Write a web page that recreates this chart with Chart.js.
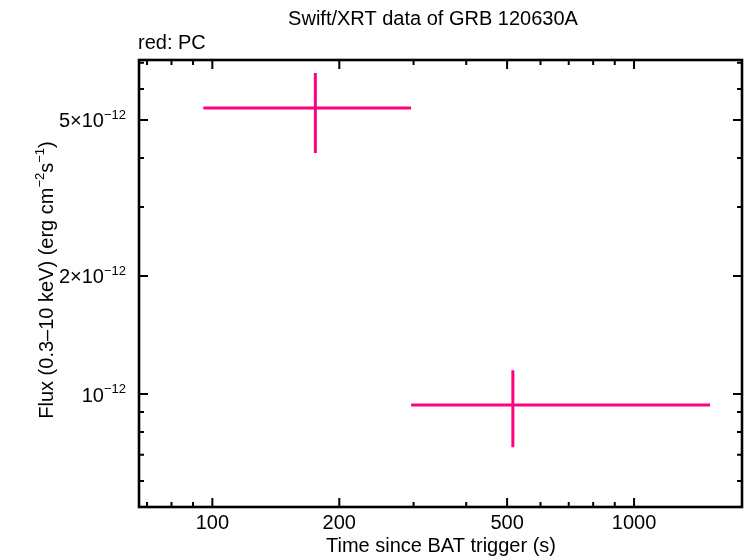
<!DOCTYPE html>
<html>
<head>
<meta charset="utf-8">
<script src="https://cdn.jsdelivr.net/npm/chart.js@4/dist/chart.umd.min.js"></script>
<style>
html, body { margin: 0; padding: 0; background: #fff; }
#wrap { width: 746px; height: 558px; }
</style>
</head>
<body>
<div id="wrap"><canvas id="lc" width="746" height="558"></canvas></div>
<script>
// light curve bins (PC mode)
var timeMid = [175.5, 516];
var timeLo  = [95.2, 296];
var timeHi  = [296, 1514];
var flux    = [5.36e-12, 9.37e-13];
var fluxLo  = [4.12e-12, 7.32e-13];
var fluxHi  = [6.59e-12, 1.15e-12];

// axis ticks
var xMajor = [100, 200, 500, 1000];
var xMajorLabels = ["100", "200", "500", "1000"];
var xMinor = [70, 80, 90, 300, 400, 600, 700, 800, 900];
var yMajor = [1e-12, 2e-12, 5e-12];
var yMajorLabels = [["10", "\u221212"], ["2\u00d710", "\u221212"], ["5\u00d710", "\u221212"]];
var yMinor = [6e-13, 7e-13, 8e-13, 9e-13, 3e-12, 4e-12, 6e-12, 7e-12];

var pink = "#ff0080";
var FONT = "'Liberation Sans', Arial, Helvetica, sans-serif";

var points = timeMid.map(function (t, i) { return { x: t, y: flux[i] }; });

// draws "base" + superscript, anchored by align ('right' | 'center' | 'left')
function supText(ctx, parts, x, y, align) {
  var big = "20px " + FONT, small = "13px " + FONT;
  var w = 0;
  parts.forEach(function (p, i) {
    ctx.font = (i % 2 == 0) ? big : small;
    w += ctx.measureText(p).width;
  });
  var cx = align == "right" ? x - w : (align == "center" ? x - w / 2 : x);
  ctx.textAlign = "left";
  ctx.textBaseline = "middle";
  parts.forEach(function (p, i) {
    if (i % 2 == 0) {
      ctx.font = big;
      ctx.fillText(p, cx, y);
    } else {
      ctx.font = small;
      ctx.fillText(p, cx, y - 7);
    }
    cx += ctx.measureText(p).width;
  });
}

var errorBars = {
  id: 'errorBars',
  afterDatasetsDraw: function (chart) {
    var ctx = chart.ctx, xs = chart.scales.x, ys = chart.scales.y;
    ctx.save();
    ctx.strokeStyle = pink;
    ctx.lineWidth = 3;
    for (var i = 0; i < timeMid.length; i++) {
      var px = xs.getPixelForValue(timeMid[i]);
      var py = ys.getPixelForValue(flux[i]);
      ctx.beginPath();
      ctx.moveTo(xs.getPixelForValue(timeLo[i]), py);
      ctx.lineTo(xs.getPixelForValue(timeHi[i]), py);
      ctx.moveTo(px, ys.getPixelForValue(fluxHi[i]));
      ctx.lineTo(px, ys.getPixelForValue(fluxLo[i]));
      ctx.stroke();
    }
    ctx.restore();
  }
};

var frame = {
  id: 'frame',
  afterDraw: function (chart) {
    var ctx = chart.ctx, a = chart.chartArea;
    var xs = chart.scales.x, ys = chart.scales.y;
    ctx.save();
    ctx.strokeStyle = "#000";
    ctx.fillStyle = "#000";

    // ticks, inside, mirrored
    ctx.lineWidth = 2;
    ctx.beginPath();
    function xt(v, len) {
      var p = xs.getPixelForValue(v);
      ctx.moveTo(p, a.bottom); ctx.lineTo(p, a.bottom - len);
      ctx.moveTo(p, a.top); ctx.lineTo(p, a.top + len);
    }
    function yt(v, len) {
      var p = ys.getPixelForValue(v);
      ctx.moveTo(a.left, p); ctx.lineTo(a.left + len, p);
      ctx.moveTo(a.right, p); ctx.lineTo(a.right - len, p);
    }
    xMajor.forEach(function (v) { xt(v, 9); });
    xMinor.forEach(function (v) { xt(v, 5); });
    yMajor.forEach(function (v) { yt(v, 9); });
    yMinor.forEach(function (v) { yt(v, 5); });
    ctx.stroke();

    ctx.lineWidth = 2.6;
    ctx.strokeRect(a.left, a.top, a.right - a.left, a.bottom - a.top);

    // tick labels
    ctx.font = "20px " + FONT;
    ctx.textAlign = "center";
    ctx.textBaseline = "middle";
    xMajor.forEach(function (v, i) {
      ctx.fillText(xMajorLabels[i], xs.getPixelForValue(v), 523);
    });
    yMajor.forEach(function (v, i) {
      supText(ctx, yMajorLabels[i], 126, ys.getPixelForValue(v) + 2, "right");
    });

    // titles
    ctx.font = "20px " + FONT;
    ctx.textAlign = "center";
    ctx.fillText("Swift/XRT data of GRB 120630A", 433, 19);
    ctx.fillText("Time since BAT trigger (s)", 441, 546);
    ctx.textAlign = "left";
    ctx.fillText("red: PC", 138, 43);

    ctx.translate(47, 280);
    ctx.rotate(-Math.PI / 2);
    supText(ctx, ["Flux (0.3\u201310 keV) (erg cm", "\u22122", "s", "\u22121", ")"], 0, 0, "center");
    ctx.restore();
  }
};

var ctx = document.getElementById("lc").getContext('2d');
var lc = new Chart(ctx, {
  type: 'scatter',
  data: {
    datasets: [{
      label: 'PC',
      data: points,
      pointRadius: 0,
      borderColor: pink,
      backgroundColor: pink
    }]
  },
  options: {
    responsive: false,
    animation: false,
    devicePixelRatio: 1,
    layout: { padding: { left: 139, right: 4, top: 60, bottom: 51 } },
    plugins: { legend: { display: false }, tooltip: { enabled: false } },
    scales: {
      x: { type: 'logarithmic', min: 67, max: 1803, display: false },
      y: { type: 'logarithmic', min: 5.15e-13, max: 7.11e-12, display: false }
    }
  },
  plugins: [errorBars, frame]
});
</script>
</body>
</html>
